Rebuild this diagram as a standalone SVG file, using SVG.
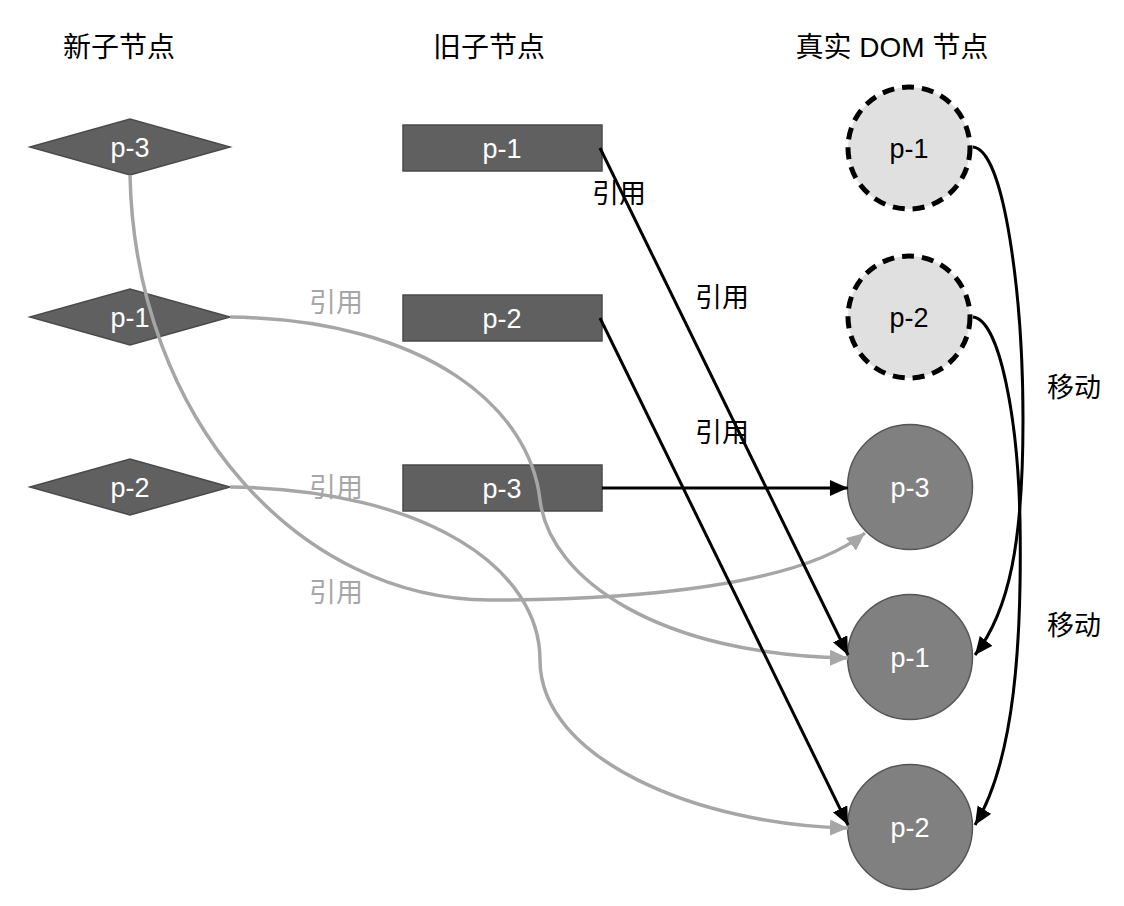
<svg xmlns="http://www.w3.org/2000/svg" width="1124" height="906" viewBox="0 0 1124 906">
<style>
text{font-family:"Liberation Sans","Noto Sans CJK SC",sans-serif;text-anchor:middle}
.title{font-size:28px;fill:#000}
.nl{font-size:27px;fill:#fff}
.nd{font-size:27px;fill:#000}
.lb{font-size:27px;fill:#000}
.lg{font-size:27px;fill:#a6a6a6}
.dia{fill:#606060;stroke:#4a4a4a;stroke-width:1.5}
.rect{fill:#606060;stroke:#4a4a4a;stroke-width:1.5}
.real{fill:#808080;stroke:#555;stroke-width:1.5}
.old{fill:#e0e0e0;stroke:#000;stroke-width:5;stroke-dasharray:12 8}
.cb{fill:none;stroke:#000;stroke-width:3}
.cg{fill:none;stroke:#a6a6a6;stroke-width:3.5}
</style>
<defs>
<marker id="ab" markerUnits="userSpaceOnUse" markerWidth="22" markerHeight="18" refX="18" refY="8" orient="auto"><path d="M0,0 L18,8 L0,16 z" fill="#000"/></marker>
<marker id="ag" markerUnits="userSpaceOnUse" markerWidth="22" markerHeight="18" refX="18" refY="8" orient="auto"><path d="M0,0 L18,8 L0,16 z" fill="#a6a6a6"/></marker>
</defs>
<rect width="1124" height="906" fill="#fff"/>
<g id="titles">
<text class="title" x="119" y="57">新子节点</text>
<text class="title" x="489" y="57">旧子节点</text>
<text class="title" x="892" y="57">真实 DOM 节点</text>
</g>
<g id="new-p3"><polygon class="dia" points="30,147 130,119 230,147 130,175"/><text class="nl" x="130" y="157">p-3</text></g>
<g id="new-p1"><polygon class="dia" points="30,317 130,289 230,317 130,345"/><text class="nl" x="130" y="327">p-1</text></g>
<g id="new-p2"><polygon class="dia" points="30,487 130,459 230,487 130,515"/><text class="nl" x="130" y="497">p-2</text></g>
<g id="old-p1"><rect class="rect" x="403" y="125" width="199" height="46"/><text class="nl" x="502" y="158">p-1</text></g>
<g id="old-p2"><rect class="rect" x="403" y="295" width="199" height="46"/><text class="nl" x="502" y="328">p-2</text></g>
<g id="old-p3"><rect class="rect" x="403" y="465" width="199" height="46"/><text class="nl" x="502" y="498">p-3</text></g>
<g id="dom-old-p1"><circle class="old" cx="909" cy="148" r="61"/><text class="nd" x="909" y="158">p-1</text></g>
<g id="dom-old-p2"><circle class="old" cx="909" cy="317" r="61"/><text class="nd" x="909" y="327">p-2</text></g>
<g id="dom-p3"><circle class="real" cx="910" cy="487" r="62.5"/><text class="nl" x="910" y="497">p-3</text></g>
<g id="dom-p1"><circle class="real" cx="910" cy="657" r="62.5"/><text class="nl" x="910" y="667">p-1</text></g>
<g id="dom-p2"><circle class="real" cx="910" cy="827" r="62.5"/><text class="nl" x="910" y="837">p-2</text></g>
<g id="connectors">
<path class="cg" d="M130,175 C135,420 300,600 490,600 C640,600 800,585 865,533" marker-end="url(#ag)"/>
<path class="cg" d="M230,317 C430,320 530,410 540,500 C550,580 660,655 848,658" marker-end="url(#ag)"/>
<path class="cg" d="M230,487 C430,490 540,570 540,660 C540,760 700,825 848,828" marker-end="url(#ag)"/>
<path class="cb" d="M600,148 L848,655" marker-end="url(#ab)"/>
<path class="cb" d="M600,318 L848,825" marker-end="url(#ab)"/>
<path class="cb" d="M602,488 L848,488" marker-end="url(#ab)"/>
<path class="cb" d="M973,147 C1005,150 1023,300 1023,420 C1023,540 1010,610 975,655" marker-end="url(#ab)"/>
<path class="cb" d="M973,317 C1000,320 1018,420 1020,520 C1022,640 1015,760 975,825" marker-end="url(#ab)"/>
</g>
<g id="labels">
<text class="lb" x="619" y="203">引用</text>
<text class="lb" x="722" y="307">引用</text>
<text class="lb" x="722" y="442">引用</text>
<text class="lg" x="336" y="312">引用</text>
<text class="lg" x="336" y="497">引用</text>
<text class="lg" x="336" y="602">引用</text>
<text class="lb" x="1074" y="397">移动</text>
<text class="lb" x="1074" y="635">移动</text>
</g>
</svg>
